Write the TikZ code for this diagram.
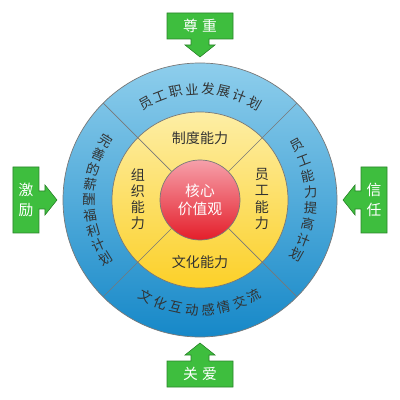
\documentclass[tikz,border=0pt]{standalone}
\usepackage{fontspec}
\setmainfont{Noto Sans CJK SC}

\definecolor{bluetop}{RGB}{142,206,236}
\definecolor{bluebot}{RGB}{22,136,200}
\definecolor{yeltop}{RGB}{253,238,165}
\definecolor{yelbot}{RGB}{252,208,40}
\definecolor{redtop}{RGB}{246,160,170}
\definecolor{redbot}{RGB}{228,30,42}
\definecolor{boxgreen}{RGB}{62,190,62}
\definecolor{edgegray}{RGB}{120,120,120}
\definecolor{txtgray}{RGB}{50,50,50}

\tikzset{
  ringtxt/.style={font=\fontsize{9.5}{11}\selectfont, text=txtgray, inner sep=0pt},
  innertxt/.style={font=\fontsize{10}{11.5}\selectfont, text=txtgray, align=center, inner sep=0pt},
  boxtxt/.style={font=\fontsize{10.5}{14}\selectfont, text=white, align=center, inner sep=0pt},
  callout/.style={fill=boxgreen, draw=boxgreen!70!black, line width=0.4pt},
  divline/.style={draw=edgegray, line width=0.5pt}
}

\begin{document}
\begin{tikzpicture}[x=0.025cm,y=0.025cm]
\useasboundingbox (-200,-200) rectangle (200,200);

% Outer blue ring
\shade[top color=bluetop, bottom color=bluebot] (0,0) circle[radius=137];
\draw[divline] (0,0) circle[radius=137];

% Yellow ring
\shade[top color=yeltop, bottom color=yelbot] (0,0) circle[radius=88];
\draw[divline] (0,0) circle[radius=88];

% Core value
\node[circle, minimum size=2cm, draw=edgegray, line width=0.5pt,
      top color=redtop, bottom color=redbot, text=white,
      font=\fontsize{10.5}{13}\selectfont, align=center] (core) at (0,0) {核心\\价值观};

% Dividers
\foreach \a in {45,135,225,315}
  \draw[divline] (core.\a) -- (\a:137);

% Inner abilities
\node[innertxt] (zhidu) at (0,62) {制度能力};
\node[innertxt] (wenhua) at (0,-62) {文化能力};
\node[innertxt] (zuzhi) at (-62,1) {组\\织\\能\\力};
\node[innertxt] (yuangong) at (62,1) {员\\工\\能\\力};

% Texts on the blue ring
\foreach \c [count=\i, evaluate=\i as \a using 127.8-8.4*\i] in {员,工,职,业,发,展,计,划}
  \node[ringtxt, rotate=\a-90] (top\i) at (\a:111) {\c};
\foreach \c [count=\i, evaluate=\i as \a using 37.8-8.4*\i] in {员,工,能,力,提,高,计,划}
  \node[ringtxt, rotate=\a] (right\i) at (\a:111) {\c};
\foreach \c [count=\i, evaluate=\i as \a using 232.2+8.4*\i] in {文,化,互,动,感,情,交,流}
  \node[ringtxt, rotate=\a-270] (bot\i) at (\a:110) {\c};
\foreach \c [count=\i, evaluate=\i as \a using 140+8*\i] in {完,善,的,薪,酬,福,利,计,划}
  \node[ringtxt, rotate=\a-180] (left\i) at (\a:111) {\c};

% Green callouts
\foreach \r in {0,90,180,270}
  \draw[callout, rotate=\r] (-33,187) -- (33,187) -- (33,161) -- (9,161) -- (9,155)
    -- (15,155) -- (0,143) -- (-15,155) -- (-9,155) -- (-9,161) -- (-33,161) -- cycle;

\node[boxtxt] (zunzhong) at (0,174) {尊\hspace{3pt}重};
\node[boxtxt] (guanai) at (0,-174) {关\hspace{3pt}爱};
\node[boxtxt] (jili) at (-174,0) {激\\励};
\node[boxtxt] (xinren) at (174,0) {信\\任};

\end{tikzpicture}
\end{document}
